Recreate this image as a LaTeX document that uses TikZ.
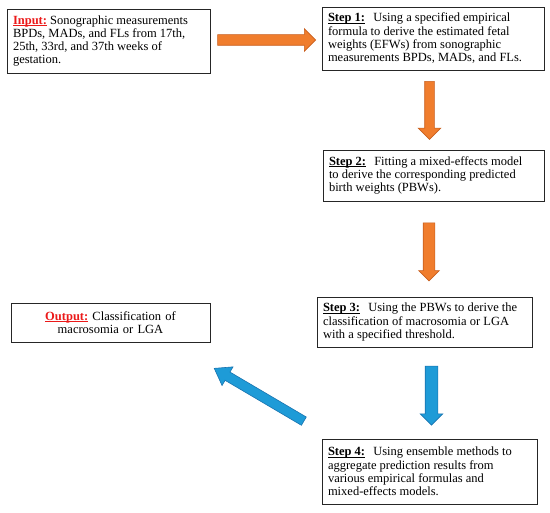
\documentclass[tikz,border=0pt]{standalone}
\usepackage{fontspec}
\setmainfont{Liberation Serif}
\usetikzlibrary{shapes.arrows}

\definecolor{arroworange}{RGB}{240,125,45}
\definecolor{orangeedge}{RGB}{200,95,30}
\definecolor{arrowblue}{RGB}{30,155,215}
\definecolor{blueedge}{RGB}{25,115,175}
\definecolor{labelred}{RGB}{235,25,25}

\newsavebox{\labelbox}
\newcommand{\ulbold}[1]{\sbox{\labelbox}{\textbf{#1}}\rlap{\rule[-1.8pt]{\wd\labelbox}{0.6pt}}\usebox{\labelbox}}
\newcommand{\steplabel}[1]{\ulbold{#1}\hspace{0.65em}}
\newcommand{\redlabel}[1]{\textcolor{labelred}{\ulbold{#1}}\ }

\begin{document}
\begin{tikzpicture}[
      x=1pt, y=-1pt,
      every node/.style={font=\fontsize{12.5}{13.3}\selectfont},
      box/.style={draw=black!85, line width=0.9pt, inner xsep=6pt, inner ysep=0pt, align=flush left},
      blockarrow/.style={single arrow, inner xsep=0pt, line width=0.6pt},
      orangearrow/.style={blockarrow, fill=arroworange, draw=orangeedge},
      bluearrow/.style={blockarrow, fill=arrowblue, draw=blueedge}
    ]
    \useasboundingbox (0,0) rectangle (550,513);

    % boxes
    \node[box, text width=191pt, minimum height=64pt] (input) at (108.5,41)
      {\redlabel{Input:}Sonographic measurements\\
       BPDs, MADs, and FLs from 17th,\\
       25th, 33rd, and 37th weeks of\\
       gestation.};
    \node[box, text width=210pt, minimum height=63pt] (step1) at (433,38.5)
      {\steplabel{Step 1:}Using a specified empirical\\
       formula to derive the estimated fetal\\
       weights (EFWs) from sonographic\\
       measurements BPDs, MADs, and FLs.};
    \node[box, text width=209pt, minimum height=51pt] (step2) at (433.5,175.5)
      {\steplabel{Step 2:}Fitting a mixed-effects model\\
       to derive the corresponding predicted\\
       birth weights (PBWs).};
    \node[box, text width=203pt, minimum height=50pt] (step3) at (424.5,322)
      {\steplabel{Step 3:}Using the PBWs to derive the\\
       classification of macrosomia or LGA\\
       with a specified threshold.};
    \node[box, text width=203pt, minimum height=65pt] (step4) at (429.5,471.5)
      {\steplabel{Step 4:}Using ensemble methods to\\
       aggregate prediction results from\\
       various empirical formulas and\\
       mixed-effects models.};
    \node[box, text width=187pt, minimum height=39pt, align=center] (output) at (110.5,322.5)
      {\redlabel{Output:}Classification of\\
       macrosomia or LGA};

    % arrows
    \node[orangearrow, minimum height=98pt, inner ysep=5pt, single arrow head extend=6pt]
      (arrow1) at (264,40) {};
    \node[orangearrow, minimum height=58pt, inner ysep=4.5pt, single arrow head extend=6.5pt, rotate=-90]
      (arrow2) at (429.5,108) {};
    \node[orangearrow, minimum height=58pt, inner ysep=5.5pt, single arrow head extend=4.5pt, rotate=-90]
      (arrow3) at (429,249) {};
    \node[bluearrow, minimum height=59pt, inner ysep=6pt, single arrow head extend=5pt, rotate=-90]
      (arrow4) at (431.5,392.5) {};
    \node[bluearrow, minimum height=104pt, inner ysep=4.5pt, single arrow head extend=6pt,
          single arrow tip angle=70, rotate=149.5]
      (arrow5) at (262,396.5) {};

  \end{tikzpicture}
\end{document}
